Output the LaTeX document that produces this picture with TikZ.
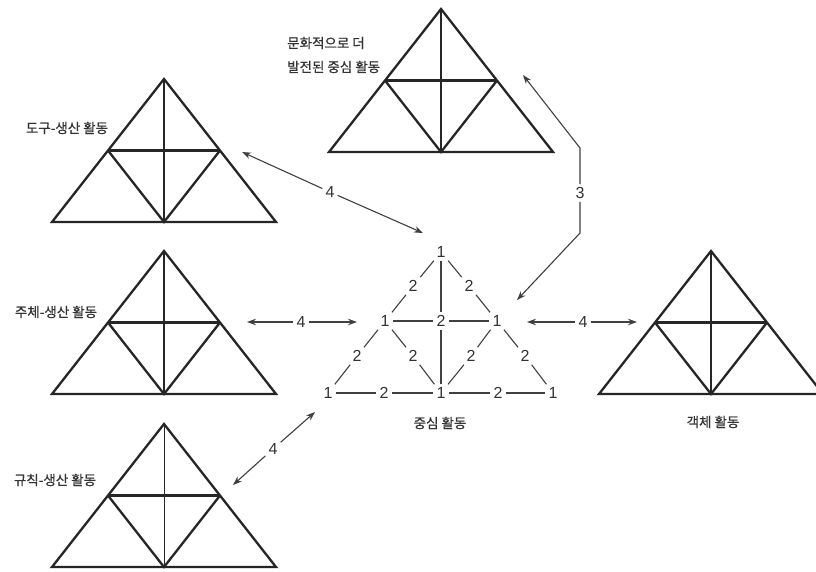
\documentclass[tikz,border=0pt]{standalone}
\usepackage{fontspec}
\setmainfont{Liberation Sans}
\newfontfamily\krfont{Noto Sans CJK KR}[FakeBold=0.6]
\usetikzlibrary{arrows.meta}
\begin{document}
\begin{tikzpicture}[x=1pt,y=-1pt,
  tri/.style={line width=2.3pt, line join=miter, black!85},
  thinvert/.style={line width=1pt},
  num/.style={font=\fontsize{16}{16}\selectfont, inner sep=3pt, text=black!80},
  kr/.style={font=\krfont\fontsize{13.5}{15}\selectfont, text=black!80, inner sep=0pt},
  cline/.style={line width=1.1pt, black!75},
  arrline/.style={line width=1.1pt, black!75},
  tipA/.style={-{Stealth[length=9pt,width=6.5pt]}},
  tipB/.style={{Stealth[length=9pt,width=6.5pt]}-},
  pics/acttri/.style={code={
    \draw[tri] (0,0) -- (-112,143) -- (112,143) -- cycle;
    \draw[tri] (-56,71.5) -- (56,71.5);
    \draw[tri] (-56,71.5) -- (0,143) -- (56,71.5);
    \draw[tri,#1] (0,0) -- (0,143);
  }}
]
\useasboundingbox[fill=white] (0,0) rectangle (816,571);

% outer activity triangles
\pic at (164,79)  {acttri=tri};
\pic at (441,9)   {acttri=tri};
\pic at (164,251) {acttri=tri};
\pic at (164,424) {acttri=thinvert};
\pic at (711,251) {acttri=tri};

% labels
\node[kr] (ltool) at (67,128) {도구-생산 활동};
\node[kr, align=left, anchor=west, font=\krfont\fontsize{13.5}{24}\selectfont] (lcult) at (287,55) {문화적으로 더\\발전된 중심 활동};
\node[kr] (lsubj) at (56,312) {주체-생산 활동};
\node[kr] (lrule) at (55,480) {규칙-생산 활동};
\node[kr] (lobj)  at (713,422) {객체 활동};
\node[kr] (lcent) at (440,423) {중심 활동};

% central triangle numbers
\node[num] (a)   at (441,252) {1};
\node[num] (ml)  at (385,321) {1};
\node[num] (mc)  at (441,321) {2};
\node[num] (mr)  at (497,321) {1};
\node[num] (bl)  at (328,393) {1};
\node[num] (bc)  at (441,393) {1};
\node[num] (br)  at (553,393) {1};
\node[num] (ul)  at (413,286) {2};
\node[num] (ur)  at (469,286) {2};
\node[num] (ll)  at (357,356) {2};
\node[num] (lr)  at (525,356) {2};
\node[num] (il)  at (413,356) {2};
\node[num] (ir)  at (471,356) {2};
\node[num] (bbl) at (384,393) {2};
\node[num] (bbr) at (498,393) {2};

\draw[cline] (a) -- (ul);  \draw[cline] (ul) -- (ml);
\draw[cline] (ml) -- (ll); \draw[cline] (ll) -- (bl);
\draw[cline] (a) -- (ur);  \draw[cline] (ur) -- (mr);
\draw[cline] (mr) -- (lr); \draw[cline] (lr) -- (br);
\draw[cline] (bl) -- (bbl); \draw[cline] (bbl) -- (bc);
\draw[cline] (bc) -- (bbr); \draw[cline] (bbr) -- (br);
\draw[cline] (ml) -- (mc); \draw[cline] (mc) -- (mr);
\draw[cline] (a) -- (mc);  \draw[cline] (mc) -- (bc);
\draw[cline] (ml) -- (il); \draw[cline] (il) -- (bc);
\draw[cline] (mr) -- (ir); \draw[cline] (ir) -- (bc);

% arrows labelled 4
\coordinate (p1a) at (242,152);
\coordinate (p1b) at (423,233);
\node[num] (n1) at (330,192) {4};
\draw[arrline,tipB] (p1a) -- (n1);
\draw[arrline,tipA] (n1) -- (p1b);

\coordinate (p2a) at (247,322);
\coordinate (p2b) at (357,322);
\node[num] (n2) at (301,322) {4};
\draw[arrline,tipB] (p2a) -- (n2);
\draw[arrline,tipA] (n2) -- (p2b);

\coordinate (p3a) at (527,322);
\coordinate (p3b) at (637,322);
\node[num] (n3) at (583,322) {4};
\draw[arrline,tipB] (p3a) -- (n3);
\draw[arrline,tipA] (n3) -- (p3b);

\coordinate (p4a) at (233,485);
\coordinate (p4b) at (315,412);
\node[num] (n4) at (273,449) {4};
\draw[arrline,tipB] (p4a) -- (n4);
\draw[arrline,tipA] (n4) -- (p4b);

% arrow labelled 3
\coordinate (q1) at (523,75);
\coordinate (q2) at (580,148);
\coordinate (q3) at (580,233);
\coordinate (q4) at (517,300);
\node[num] (n5) at (580,193) {3};
\draw[arrline,tipB] (q1) -- (q2) -- (n5);
\draw[arrline,tipA] (n5) -- (q3) -- (q4);
\end{tikzpicture}
\end{document}
